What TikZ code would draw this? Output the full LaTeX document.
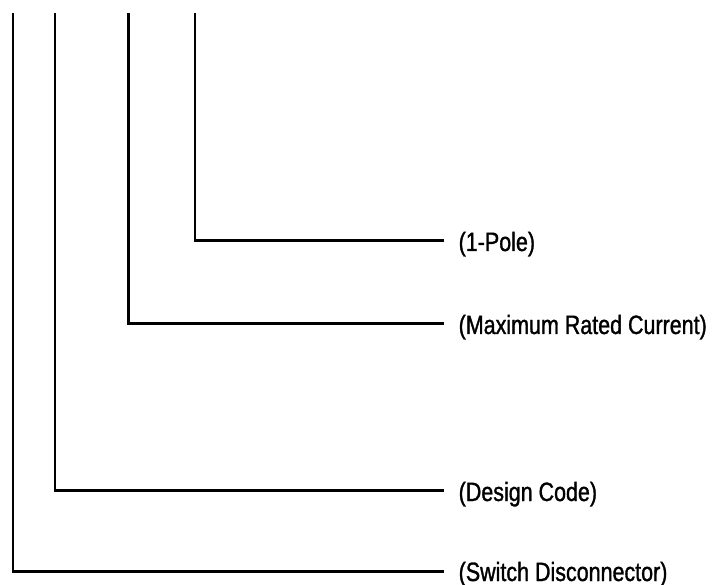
\documentclass[tikz,border=0pt]{standalone}
\usepackage{fontspec}
\setmainfont[FakeStretch=0.81, FakeBold=1.2]{Liberation Sans}
\usepackage{tikz}
\usetikzlibrary{positioning}
\tikzstyle{lead} = [line width=2.2pt, line cap=rect]
\tikzstyle{code} = [anchor=west, inner xsep=15.5pt, inner ysep=0pt, text height=21pt, text depth=0pt, font=\fontsize{26.5}{30}\selectfont]

\begin{document}
\begin{tikzpicture}[x=1pt, y=-1pt]
    \useasboundingbox (0, 0) rectangle (713, 585);
    \coordinate (t1) at (13, 14);
    \coordinate (t2) at (55, 14);
    \coordinate (t3) at (128.5, 14);
    \coordinate (t4) at (195, 14);
    \node [code] (pole) at (443, 240.5) {(1-Pole)};
    \node [code] (current) at (443, 323.5) {(Maximum Rated Current)};
    \node [code] (design) at (443, 490.5) {(Design Code)};
    \node [code, text height=19pt] (switch) at (443, 571.5) {(Switch Disconnector)};
    \draw [lead] (t4) |- (pole);
    \draw [lead] (t3) |- (current);
    \draw [lead] (t2) |- (design);
    \draw [lead] (t1) |- (switch);
\end{tikzpicture}
\end{document}
